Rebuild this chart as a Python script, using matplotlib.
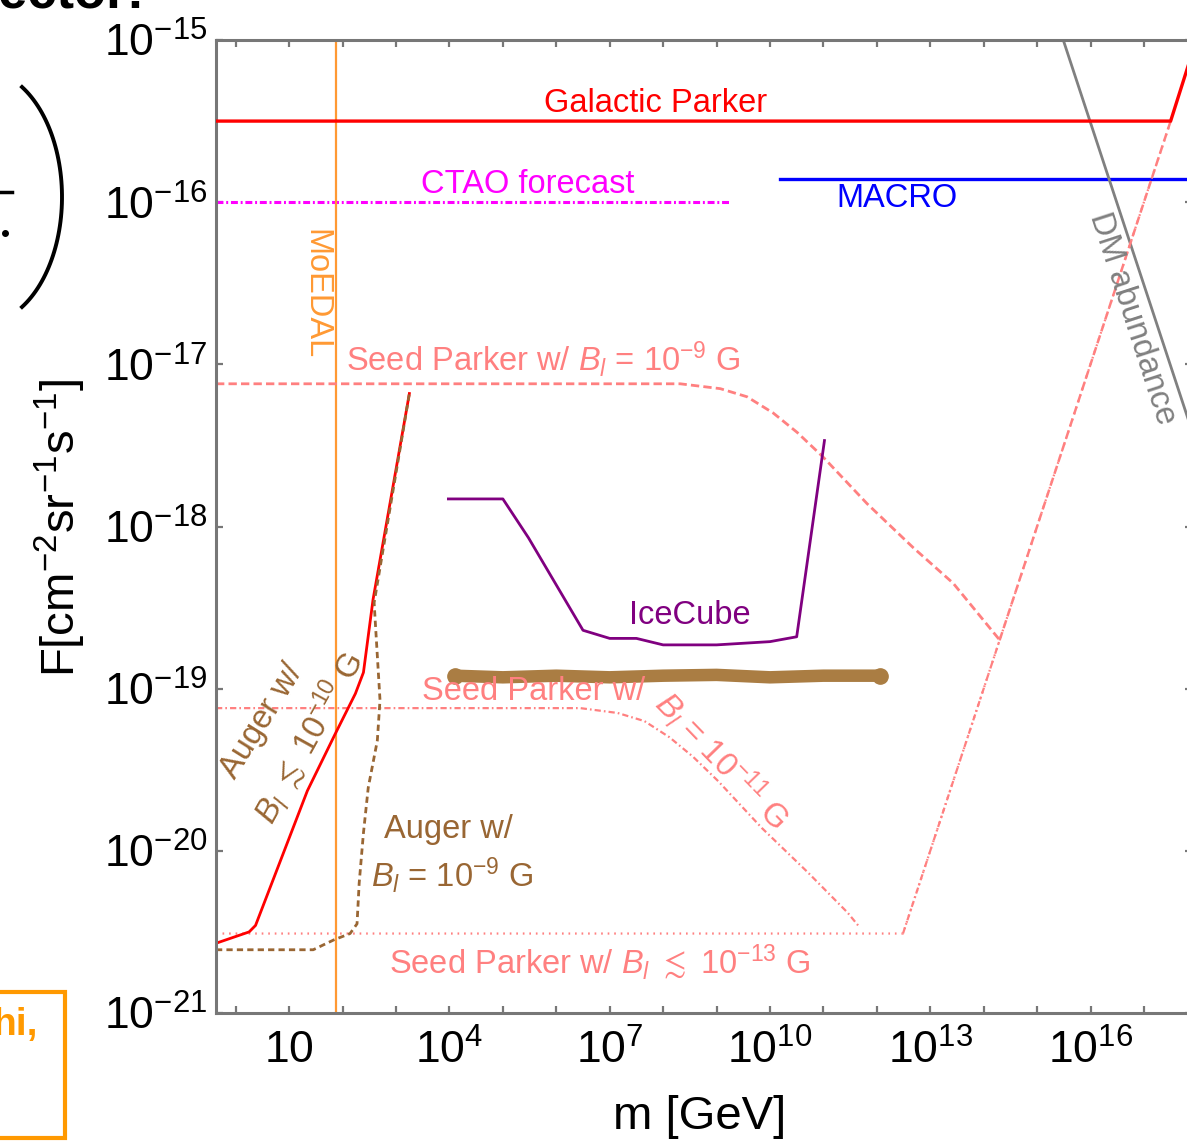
import numpy as np
import matplotlib.pyplot as plt
from matplotlib.ticker import FixedLocator, FuncFormatter, NullLocator
from matplotlib.patches import Rectangle
from matplotlib.lines import Line2D

plt.rcParams['font.family'] = ['Liberation Sans', 'DejaVu Sans']
plt.rcParams['mathtext.fontset'] = 'custom'
plt.rcParams['mathtext.rm'] = 'Liberation Sans'
plt.rcParams['mathtext.it'] = 'Liberation Sans:italic'
plt.rcParams['mathtext.bf'] = 'Liberation Sans:bold'
plt.rcParams['lines.scale_dashes'] = False

# all curves as log10(m/GeV), log10(F/cm^-2 sr^-1 s^-1)
galactic_logm = [-0.37, 17.5, 18.0]
galactic_logF = [-15.5, -15.5, -14.98]

ctao_logm = [-0.37, 9.25]
ctao_logF = [-16.0, -16.0]

macro_logm = [10.19, 18.0]
macro_logF = [-15.86, -15.86]

dm_logm = [15.49, 18.0]
dm_logF = [-15.0, -17.51]

moedal_logm = 1.88

seed9_logm = [-0.37, 8.32, 9.07, 9.57, 10.06, 10.51, 10.99, 11.82, 12.68, 13.43, 14.30]
seed9_logF = [-17.12, -17.12, -17.15, -17.20, -17.30, -17.42, -17.57, -17.86, -18.13, -18.35, -18.70]
seed9_rise_logm = [14.30, 17.5]
seed9_rise_logF = [-18.70, -15.5]

seed11_logm = [-0.37, 6.45, 7.15, 7.65, 8.12, 8.56, 9.03, 9.85, 10.70, 11.45, 11.65]
seed11_logF = [-19.12, -19.12, -19.15, -19.20, -19.30, -19.42, -19.57, -19.86, -20.13, -20.38, -20.46]
seed11_rise_logm = [12.49, 14.30]
seed11_rise_logF = [-20.51, -18.70]

seed13_logm = [-0.37, 12.49, 17.5]
seed13_logF = [-20.51, -20.51, -15.5]

auger10_logm = [-0.37, 0.25, 0.37, 1.34, 1.86, 2.24, 2.39, 2.57, 3.25]
auger10_logF = [-20.57, -20.50, -20.46, -19.63, -19.28, -19.03, -18.90, -18.45, -17.18]

auger9_logm = [-0.37, 1.45, 1.83, 2.14, 2.27, 2.31, 2.39, 2.48, 2.65, 2.70, 2.59, 3.25]
auger9_logF = [-20.61, -20.61, -20.55, -20.51, -20.45, -20.20, -19.89, -19.61, -19.32, -19.07, -18.47, -17.18]

icecube_logm = [3.98, 5.0, 5.48, 6.5, 7.0, 7.5, 8.0, 9.0, 10.0, 10.5, 11.02]
icecube_logF = [-17.83, -17.83, -18.07, -18.64, -18.69, -18.69, -18.73, -18.73, -18.71, -18.68, -17.47]

band_logm = [4.10, 5.0, 6.0, 7.0, 8.0, 9.0, 10.0, 11.0, 12.06]
band_logF = [-18.92, -18.93, -18.92, -18.93, -18.92, -18.915, -18.93, -18.92, -18.92]

xtick_exp = list(range(0, 18))
xlabel_exp = [1, 4, 7, 10, 13, 16]
ytick_exp = list(range(-21, -14))

RED = '#FF0000'
PINK = '#FF8080'
MAGENTA = '#FF00FF'
BLUE = '#0000FF'
GRAY = '#808080'
ORANGE = '#FF9933'
BROWN = '#996633'
BAND = '#AA7D43'
PURPLE = '#800080'
AXC = '#777777'


def p(v):
    return np.power(10.0, v)


W, H = 1187, 1141
fig = plt.figure(figsize=(W / 100, H / 100), dpi=100)
ax = fig.add_axes([216 / W, (H - 1013) / H, (1192 - 216) / W, (1013 - 40) / H])
ax.set_xscale('log')
ax.set_yscale('log')
ax.set_xlim(p(-0.37), p(17.9))
ax.set_ylim(1e-21, 1e-15)

# lines
ax.plot(p(galactic_logm), p(galactic_logF), color=RED, lw=2.4, zorder=5)
ax.plot(p(ctao_logm), p(ctao_logF), color=MAGENTA, lw=2.2, ls=(0, (5, 2, 1.4, 2)))
ax.plot(p(macro_logm), p(macro_logF), color=BLUE, lw=2.4)
ax.plot(p(dm_logm), p(dm_logF), color=GRAY, lw=2.0)
ax.axvline(p(moedal_logm), color=ORANGE, lw=1.6)

ax.plot(p(seed9_logm), p(seed9_logF), color=PINK, lw=2.0, ls=(0, (6, 3)))
ax.plot(p(seed9_rise_logm), p(seed9_rise_logF), color=PINK, lw=1.8, ls=(0, (6, 3)))
ax.plot(p(seed11_logm), p(seed11_logF), color=PINK, lw=1.6, ls=(0, (4.5, 2.2, 1.2, 2.2)))
ax.plot(p(seed11_rise_logm), p(seed11_rise_logF), color=PINK, lw=1.6, ls=(0, (4.5, 2.2, 1.2, 2.2)))
ax.plot(p(seed13_logm), p(seed13_logF), color=PINK, lw=1.6, ls=(0, (1.2, 3.5)))

ax.plot(p(auger10_logm), p(auger10_logF), color=RED, lw=2.0)
ax.plot(p(auger9_logm), p(auger9_logF), color=BROWN, lw=2.0, ls=(0, (4.5, 3)))

ax.plot(p(icecube_logm), p(icecube_logF), color=PURPLE, lw=2.0)
ax.plot(p(band_logm), p(band_logF), color=BAND, lw=9, solid_capstyle='round')
ax.plot(p([band_logm[0], band_logm[-1]]), p([band_logF[0], band_logF[-1]]), 'o',
        color=BAND, ms=11)

# labels
fs = 23.5
ax.text(p(7.85), p(-15.39), 'Galactic Parker', color=RED, fontsize=fs, ha='center', va='center')
ax.text(p(5.47), p(-15.89), 'CTAO forecast', color=MAGENTA, fontsize=fs, ha='center', va='center')
ax.text(p(12.38), p(-15.98), 'MACRO', color=BLUE, fontsize=fs, ha='center', va='center')
ax.text(p(1.50), p(-16.57), 'MoEDAL', color=ORANGE, fontsize=fs, ha='center', va='center', rotation=-90)
ax.text(p(16.78), p(-16.72), 'DM abundance', color=GRAY, fontsize=fs, ha='center', va='center',
        rotation=-72, rotation_mode='anchor')
ax.text(p(5.75), p(-16.97), r'Seed Parker w/ $B_l$ = 10$^{-9}$ G', color=PINK, fontsize=fs,
        ha='center', va='center')
ax.text(p(8.50), p(-18.55), 'IceCube', color=PURPLE, fontsize=fs, ha='center', va='center')
ax.text(p(5.57), p(-19.02), 'Seed Parker w/', color=PINK, fontsize=fs, ha='center', va='center')
ax.text(p(9.10), p(-19.44), r'$B_l$ = 10$^{-11}$ G', color=PINK, fontsize=fs, ha='center',
        va='center', rotation=-46, rotation_mode='anchor')
ax.text(p(0.50), p(-19.20), 'Auger w/', color=BROWN, fontsize=fs, ha='center', va='center',
        rotation=58, rotation_mode='anchor')
ax.text(p(1.37), p(-19.30), r'$B_l$ $\lesssim$ 10$^{-10}$ G', color=BROWN, fontsize=fs, ha='center',
        va='center', rotation=61, rotation_mode='anchor')
ax.text(p(3.98), p(-19.87), 'Auger w/', color=BROWN, fontsize=fs, ha='center', va='center')
ax.text(p(4.05), p(-20.15), r'$B_l$ = 10$^{-9}$ G', color=BROWN, fontsize=fs, ha='center', va='center')
ax.text(p(6.82), p(-20.69), r'Seed Parker w/ $B_l$ $\lesssim$ 10$^{-13}$ G', color=PINK, fontsize=fs,
        ha='center', va='center')

# axes style
for s in ax.spines.values():
    s.set_color(AXC)
    s.set_linewidth(2.2)
ax.xaxis.set_major_locator(FixedLocator(p(np.array(xtick_exp, dtype=float))))
ax.xaxis.set_minor_locator(NullLocator())
ax.yaxis.set_major_locator(FixedLocator(p(np.array(ytick_exp, dtype=float))))
ax.yaxis.set_minor_locator(NullLocator())


def xfmt(v, pos):
    e = int(round(np.log10(v)))
    if e not in xlabel_exp:
        return ''
    if e == 1:
        return r'$\mathdefault{10}$'
    return r'$\mathdefault{10^{%d}}$' % e


def yfmt(v, pos):
    e = int(round(np.log10(v)))
    return r'$\mathdefault{10^{%d}}$' % e


ax.xaxis.set_major_formatter(FuncFormatter(xfmt))
ax.yaxis.set_major_formatter(FuncFormatter(yfmt))
ax.tick_params(which='both', direction='in', top=True, right=True, length=5, width=1.6,
               color=AXC, labelsize=32, labelcolor='black')
ax.tick_params(axis='x', pad=12)
ax.tick_params(axis='y', pad=6)

fig.text(60 / W, 1 - 528 / H, r'F[cm$^{-2}$sr$^{-1}$s$^{-1}$]', fontsize=34, rotation=90,
         ha='center', va='center')
fig.text(700 / W, 1 - 1117 / H, 'm [GeV]', fontsize=34, ha='center', va='center')

# slide bits around the chart
fig.text(-2 / W, 1 - 7 / H, 'ector:', fontsize=38, fontweight='bold', ha='left', va='baseline')
t = np.radians(np.linspace(-60, 60, 60))
arc_x = (-18 + 80 * np.cos(t)) / W
arc_y = 1 - (197 - 127 * np.sin(t)) / H
fig.lines.append(Line2D(arc_x, arc_y, transform=fig.transFigure, color='black', lw=2.8))
fig.lines.append(Line2D([0, 12 / W], [1 - 192 / H, 1 - 192 / H], transform=fig.transFigure,
                        color='black', lw=2.5))
fig.lines.append(Line2D([5 / W], [1 - 233 / H], transform=fig.transFigure, marker='o',
                        color='black', ms=4))
fig.patches.append(Rectangle((-10 / W, 3 / H), 75 / W, 146 / H, transform=fig.transFigure,
                             fill=False, edgecolor='#FF9900', lw=3))
fig.text(38 / W, 1 - 1025 / H, 'hi,', fontsize=28, fontweight='bold', color='#FF9900',
         ha='right', va='center')

fig.savefig('out.png', dpi=100)
